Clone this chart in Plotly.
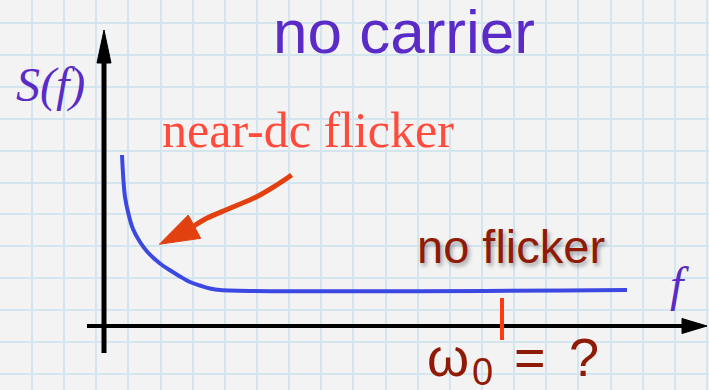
import plotly.graph_objects as go

# ---- data (axis units: 1 unit = 1 px, origin at the axes crossing) ----
curve_f = [18.0, 19.3, 21.0, 24.5, 29.0, 36.0, 43.5, 56.0, 68.0, 76.0, 86.0, 96.0, 106.0, 116.0, 523.0]
curve_S = [171.0, 148.0, 129.0, 112.0, 97.0, 84.0, 74.0, 62.5, 54.5, 49.5, 44.0, 40.5, 37.5, 36.0, 36.0]

carrier_f = [398.0, 398.0]          # omega_0 marker
carrier_S = [28.0, -14.0]

arrow_tail_x = [187.7, 172.7, 152.7, 126.0, 102.7, 90.0]
arrow_tail_y = [151.0, 141.0, 129.3, 117.7, 107.7, 100.0]
arrow_head_x = [55.3, 84.3, 96.7, 55.3]
arrow_head_y = [81.7, 111.0, 87.7, 81.7]

xaxis_line_x = [-17.0, 580.0]
xaxis_line_y = [0.0, 0.0]
xaxis_head_x = [578.0, 603.0, 578.0, 578.0]
xaxis_head_y = [7.5, 0.0, -7.5, 7.5]
yaxis_line_x = [0.0, 0.0]
yaxis_line_y = [-27.0, 265.0]
yaxis_head_x = [-7.0, 0.0, 7.0, -7.0]
yaxis_head_y = [263.0, 296.0, 263.0, 263.0]

title_text = "no carrier"
ylabel_text = "S(f)"
xlabel_text = "f"
flicker_text = "near-dc flicker"
flat_text = "no flicker"

PURPLE = "#5a2bc6"
BLUE = "#3b48e2"
DARKRED = "#8f1a05"
SERIF = "Liberation Serif, Times New Roman, serif"
SANS = "Liberation Sans, Arial, Helvetica, sans-serif"

fig = go.Figure()

# axes
fig.add_trace(go.Scatter(x=xaxis_line_x, y=xaxis_line_y, mode="lines",
                         line=dict(color="black", width=4), hoverinfo="skip"))
fig.add_trace(go.Scatter(x=xaxis_head_x, y=xaxis_head_y, mode="lines", fill="toself",
                         fillcolor="black", line=dict(color="black", width=1), hoverinfo="skip"))
fig.add_trace(go.Scatter(x=yaxis_line_x, y=yaxis_line_y, mode="lines",
                         line=dict(color="black", width=5), hoverinfo="skip"))
fig.add_trace(go.Scatter(x=yaxis_head_x, y=yaxis_head_y, mode="lines", fill="toself",
                         fillcolor="black", line=dict(color="black", width=1), hoverinfo="skip"))

# spectrum curve
fig.add_trace(go.Scatter(x=curve_f, y=curve_S, mode="lines",
                         line=dict(color=BLUE, width=4, shape="spline", smoothing=1.0),
                         hoverinfo="skip"))

# carrier marker
fig.add_trace(go.Scatter(x=carrier_f, y=carrier_S, mode="lines",
                         line=dict(color="#ff3a12", width=4), hoverinfo="skip"))

# red arrow
fig.add_trace(go.Scatter(x=arrow_tail_x, y=arrow_tail_y, mode="lines",
                         line=dict(color="#e2400f", width=5, shape="spline"), hoverinfo="skip"))
fig.add_trace(go.Scatter(x=arrow_head_x, y=arrow_head_y, mode="lines", fill="toself",
                         fillcolor="#e2400f", line=dict(color="#e2400f", width=1), hoverinfo="skip"))

ann = [
    dict(x=299.5, y=295, text=title_text,
         font=dict(family=SANS, size=62, color=PURPLE)),
    dict(x=-54, y=241, text=ylabel_text,
         font=dict(family=SERIF, size=48, color=PURPLE, style="italic")),
    dict(x=575, y=42, text=xlabel_text,
         font=dict(family=SERIF, size=48, color=PURPLE, style="italic")),
    dict(x=203.5, y=196.5, text=flicker_text,
         font=dict(family=SERIF, size=50, color="#ff4a3c")),
    dict(x=407, y=79.5, text=flat_text,
         font=dict(family=SANS, size=47, color=DARKRED,
                   shadow="2px 3px 4px rgba(0,0,0,0.35)")),
    dict(x=343.5, y=-31, text="ω",
         font=dict(family=SANS, size=54, color=DARKRED)),
    dict(x=378, y=-46, text="0",
         font=dict(family=SANS, size=38, color=DARKRED)),
    dict(x=425.5, y=-31, text="=",
         font=dict(family=SANS, size=54, color=DARKRED)),
    dict(x=479.5, y=-31, text="?",
         font=dict(family=SANS, size=54, color=DARKRED)),
]
for a in ann:
    a.update(xref="x", yref="y", showarrow=False, xanchor="center", yanchor="middle")

grid = "#d3e5ee"
fig.update_layout(
    width=709, height=390, autosize=False,
    margin=dict(l=0, r=0, t=0, b=0, pad=0),
    paper_bgcolor="#f3f3f3", plot_bgcolor="#f3f3f3",
    showlegend=False,
    annotations=ann,
    xaxis=dict(range=[-104, 605], showticklabels=False, zeroline=False, showline=False,
               showgrid=True, gridcolor=grid, gridwidth=2, tick0=-72, dtick=32.14,
               ticks="", fixedrange=True),
    yaxis=dict(range=[-64, 326], showticklabels=False, zeroline=False, showline=False,
               showgrid=True, gridcolor=grid, gridwidth=2, tick0=303, dtick=31.9,
               ticks="", fixedrange=True),
)

fig.write_html("out.html", config={"displayModeBar": False},
               post_script="document.body.style.margin='0';document.body.style.overflow='hidden';")
